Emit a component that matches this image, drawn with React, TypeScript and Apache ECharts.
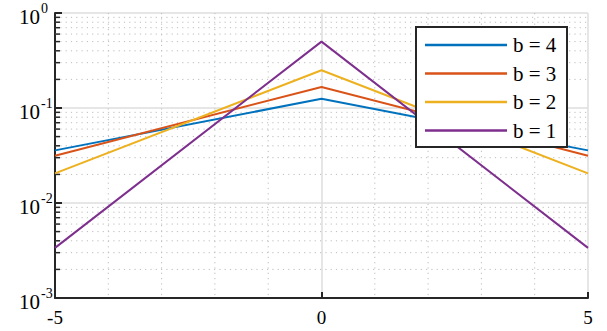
import React, { useEffect, useRef } from "react";
import * as echarts from "echarts";

const xPoints = [-5, 0, 5];
const seriesNames = ["b = 4", "b = 3", "b = 2", "b = 1"];
const b4 = [0.0358, 0.125, 0.0358];
const b3 = [0.0315, 0.1667, 0.0315];
const b2 = [0.0205, 0.25, 0.0205];
const b1 = [0.00337, 0.5, 0.00337];
const seriesValues = [b4, b3, b2, b1];
const colors = ["#0072BD", "#D95319", "#EDB120", "#7E2F8E"];

const xTicks = [-5, 0, 5];
const xMinorTicks = [-4, -3, -2, -1, 1, 2, 3, 4];
const yTicks = [1, 0.1, 0.01, 0.001];
const yTickExponents = ["0", "-1", "-2", "-3"];
const yMinorTicks = [
  0.002, 0.003, 0.004, 0.005, 0.006, 0.007, 0.008, 0.009,
  0.02, 0.03, 0.04, 0.05, 0.06, 0.07, 0.08, 0.09,
  0.2, 0.3, 0.4, 0.5, 0.6, 0.7, 0.8, 0.9,
];

const FONT = "Liberation Serif";

export default function App() {
  const ref = useRef<HTMLDivElement>(null);
  useEffect(() => {
    if (!ref.current) return;
    const chart = echarts.init(ref.current, null, { renderer: "svg" });
    const dotStyle = { stroke: "#bdbdbd", lineWidth: 1, lineDash: [1.2, 4.1] };
    const option: any = {
      animation: false,
      backgroundColor: "#ffffff",
      grid: { left: 55, right: 19, top: 13, bottom: 33 },
      legend: { show: false },
      xAxis: {
        type: "value",
        min: -5,
        max: 5,
        interval: 5,
        axisLine: { show: true, onZero: false, lineStyle: { color: "#262626", width: 2 } },
        axisTick: { show: true, inside: true, length: 6, lineStyle: { color: "#262626", width: 2 } },
        axisLabel: { show: false },
        splitLine: { show: true, lineStyle: { color: "#dedede", width: 1.5 } },
      },
      yAxis: {
        type: "log",
        logBase: 10,
        min: 0.001,
        max: 1,
        axisLine: { show: true, onZero: false, lineStyle: { color: "#262626", width: 2 } },
        axisTick: { show: true, inside: true, length: 7, lineStyle: { color: "#262626", width: 2 } },
        axisLabel: { show: false },
        splitLine: { show: true, lineStyle: { color: "#dedede", width: 1.5 } },
      },
      series: [
        {
          type: "custom",
          silent: true,
          z: 1,
          data: [0],
          renderItem: (params: any, api: any) => {
            const children: any[] = [];
            const xl = api.coord([-5, 1])[0];
            const xr = api.coord([5, 1])[0];
            const yt = api.coord([0, 1])[1];
            const yb = api.coord([0, 0.001])[1];
            yMinorTicks.forEach((v) => {
              const y = api.coord([0, v])[1];
              children.push({ type: "line", shape: { x1: xl, y1: y, x2: xr, y2: y }, style: dotStyle });
              children.push({
                type: "line",
                shape: { x1: xl, y1: y, x2: xl + 5, y2: y },
                style: { stroke: "#262626", lineWidth: 1.5 },
              });
            });
            xMinorTicks.forEach((v) => {
              const x = api.coord([v, 1])[0];
              children.push({ type: "line", shape: { x1: x, y1: yt, x2: x, y2: yb }, style: dotStyle });
            });
            return { type: "group", children };
          },
        },
        ...seriesNames.map((name, i) => ({
          name,
          type: "line",
          z: 3,
          data: xPoints.map((x, j) => [x, seriesValues[i][j]]),
          showSymbol: false,
          symbol: "none",
          lineStyle: { color: colors[i], width: 2 },
          itemStyle: { color: colors[i] },
          color: colors[i],
        })),
      ],
    };
    chart.setOption(option);

    // Axis labels and legend as text elements placed through the axes' own scales
    const graphics: any[] = [];
    const axisLeft = chart.convertToPixel({ gridIndex: 0 }, [-5, 1])[0];
    const axisBottom = chart.convertToPixel({ gridIndex: 0 }, [-5, 0.001])[1];
    xTicks.forEach((v) => {
      const px = chart.convertToPixel({ gridIndex: 0 }, [v, 1])[0];
      graphics.push({
        type: "text",
        x: px,
        y: axisBottom + 19,
        z: 20,
        style: { text: String(v), fontFamily: FONT, fontSize: 19, fill: "#000", align: "center", verticalAlign: "middle" },
      });
    });
    yTicks.forEach((v, i) => {
      const py = chart.convertToPixel({ gridIndex: 0 }, [0, v])[1];
      graphics.push({
        type: "text",
        x: axisLeft - 15,
        y: py + 3.5,
        z: 20,
        style: { text: "10", fontFamily: FONT, fontSize: 21, fill: "#000", align: "right", verticalAlign: "middle" },
      });
      graphics.push({
        type: "text",
        x: axisLeft - 14,
        y: py - 5,
        z: 20,
        style: { text: yTickExponents[i], fontFamily: FONT, fontSize: 14, fill: "#000", align: "left", verticalAlign: "middle" },
      });
    });
    const lgX = 416, lgY = 27, lgW = 151, lgH = 120, rowH = 28.5, firstRow = 18;
    graphics.push({
      type: "rect",
      x: lgX,
      y: lgY,
      z: 30,
      shape: { width: lgW, height: lgH },
      style: { fill: "#ffffff", stroke: "#262626", lineWidth: 2 },
    });
    seriesNames.forEach((name, i) => {
      const cy = lgY + firstRow + i * rowH;
      graphics.push({
        type: "line",
        z: 31,
        shape: { x1: lgX + 9, y1: cy, x2: lgX + 91, y2: cy },
        style: { stroke: colors[i], lineWidth: 2.5 },
      });
      graphics.push({
        type: "text",
        x: lgX + 97,
        y: cy,
        z: 31,
        style: { text: name, fontFamily: FONT, fontSize: 21, fill: "#000", align: "left", verticalAlign: "middle" },
      });
    });
    chart.setOption({ graphic: graphics });
    return () => chart.dispose();
  }, []);
  return (
    <div
      ref={ref}
      style={{ position: "absolute", left: 0, top: 0, width: 607, height: 331 }}
    />
  );
}
